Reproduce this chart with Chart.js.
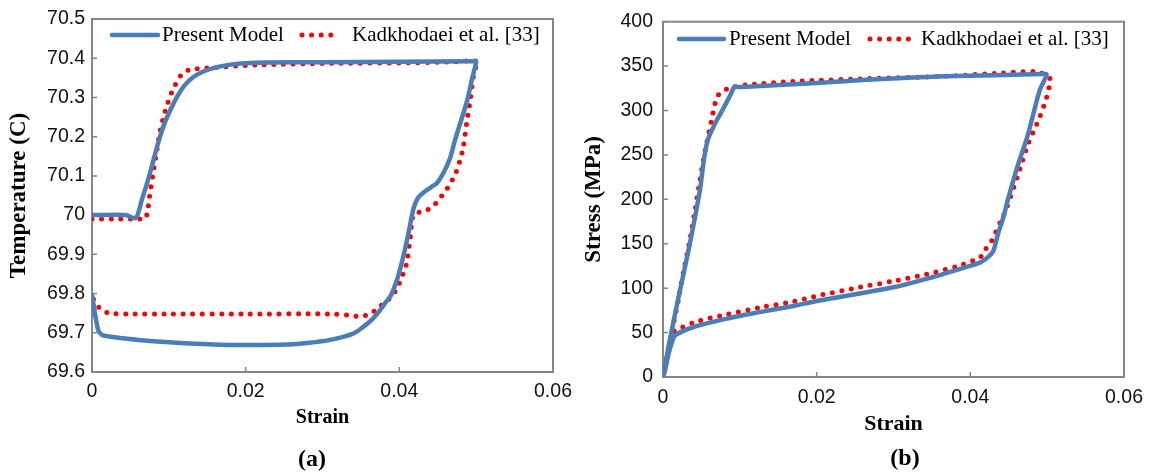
<!DOCTYPE html>
<html>
<head>
<meta charset="utf-8">
<script src="https://cdn.jsdelivr.net/npm/chart.js@4.4.1/dist/chart.umd.min.js"></script>
<style>
  html, body { margin: 0; padding: 0; background: #fff; }
  body { width: 1152px; height: 473px; position: relative; overflow: hidden; }
  .panel { position: absolute; top: 0; height: 473px; }
  #panelA { left: 0; width: 580px; }
  #panelB { left: 580px; width: 572px; }
  .caption { position: absolute; font: bold 24px 'Liberation Serif', serif; color: #000; transform: translate(-50%, -50%); }
</style>
</head>
<body>
<div class="panel" id="panelA"><canvas id="chartA" width="580" height="473"></canvas></div>
<div class="panel" id="panelB"><canvas id="chartB" width="572" height="473"></canvas></div>
<div class="caption" style="left:312px; top:458px;">(a)</div>
<div class="caption" style="left:905px; top:457px;">(b)</div>

<script>
/* =========================================
   DATA
   ========================================= */
const strainTicks = [0, 0.02, 0.04, 0.06];
const strainTickLabels = ['0', '0.02', '0.04', '0.06'];
const tempTicks = [69.6, 69.7, 69.8, 69.9, 70.0, 70.1, 70.2, 70.3, 70.4, 70.5];
const tempTickLabels = ['69.6', '69.7', '69.8', '69.9', '70', '70.1', '70.2', '70.3', '70.4', '70.5'];
const stressTicks = [0, 50, 100, 150, 200, 250, 300, 350, 400];
const stressTickLabels = ['0', '50', '100', '150', '200', '250', '300', '350', '400'];

const seriesLabels = ['Present Model', 'Kadkhodaei et al. [33]'];

// (a) temperature - present model (loading, then unloading)
const strainModelA = [0, 0.0044, 0.0057, 0.0065, 0.0073, 0.008, 0.0087, 0.0094, 0.0102, 0.0111, 0.0121, 0.0132, 0.0145, 0.016, 0.0178, 0.02, 0.0227, 0.03, 0.04, 0.0496, 0.05,
  0.04995, 0.0495, 0.0488, 0.0481, 0.0473, 0.0466, 0.0458, 0.0449, 0.0442, 0.0436, 0.043, 0.0426, 0.0423, 0.0419, 0.0416, 0.0412, 0.0407, 0.0402, 0.0397, 0.0389, 0.0382, 0.0375, 0.0365, 0.0353, 0.034, 0.031, 0.028, 0.0256, 0.022, 0.018, 0.0115, 0.0075, 0.0049, 0.0025, 0.0014, 0.0008, 0];
const tempModelA = [70.0, 70.0, 69.992, 70.04, 70.09, 70.14, 70.19, 70.232, 70.268, 70.303, 70.332, 70.352, 70.366, 70.376, 70.383, 70.387, 70.389, 70.39, 70.391, 70.392, 70.392,
  70.385, 70.35, 70.29, 70.245, 70.195, 70.145, 70.11, 70.082, 70.072, 70.064, 70.055, 70.048, 70.04, 70.02, 69.995, 69.955, 69.91, 69.87, 69.835, 69.795, 69.777, 69.758, 69.735, 69.715, 69.698, 69.682, 69.674, 69.67, 69.669, 69.669, 69.674, 69.679, 69.684, 69.69, 69.694, 69.707, 69.797];

// (a) temperature - Kadkhodaei et al.
const strainRefA = [0, 0.003, 0.0062, 0.0068, 0.0072, 0.0075, 0.0079, 0.0083, 0.0089, 0.0096, 0.0104, 0.0116, 0.0126, 0.015, 0.0217, 0.0314, 0.04, 0.046, 0.0502,
  0.0501, 0.0497, 0.0492, 0.0488, 0.0483, 0.0479, 0.0476, 0.0471, 0.0465, 0.0458, 0.045, 0.0442, 0.043, 0.0419, 0.0416, 0.0415, 0.0413, 0.041, 0.0406, 0.0402, 0.0397, 0.039, 0.038, 0.0371, 0.0359, 0.0349, 0.0335, 0.031, 0.02, 0.01, 0.0047, 0.0022, 0.001, 0.0003, 0];
const tempRefA = [69.99, 69.99, 69.99, 69.988, 70.005, 70.05, 70.1, 70.148, 70.217, 70.27, 70.314, 70.357, 70.37, 70.375, 70.383, 70.387, 70.388, 70.39, 70.393,
  70.385, 70.36, 70.29, 70.24, 70.17, 70.14, 70.12, 70.097, 70.075, 70.056, 70.036, 70.019, 70.009, 70.003, 69.98, 69.954, 69.925, 69.88, 69.857, 69.835, 69.814, 69.792, 69.776, 69.76, 69.746, 69.741, 69.745, 69.748, 69.748, 69.748, 69.748, 69.75, 69.763, 69.78, 69.8];

// (b) stress - present model
const strainModelB = [0, 0.0008, 0.002, 0.0034, 0.0048, 0.0053, 0.0058, 0.0067, 0.0079, 0.0088, 0.0093, 0.0097, 0.0115, 0.02, 0.0271, 0.0366, 0.0495, 0.0499,
  0.04985, 0.049, 0.0475, 0.0461, 0.0449, 0.0443, 0.0436, 0.043, 0.0423, 0.0413, 0.0387, 0.0343, 0.03, 0.0256, 0.02, 0.017, 0.0126, 0.0083, 0.0039, 0.0016, 0.0012, 0.0007, 0.0002, 0];
const stressModelB = [0, 38, 89, 146, 210, 243, 266, 284, 303, 318, 327, 326.5, 327, 331, 335, 338.5, 341, 341,
  338, 322, 273, 236, 200, 180, 161, 142, 135, 129, 121.8, 110.5, 101, 94, 85.5, 80, 73, 65.7, 56, 47, 40, 25, 5, 0];

// (b) stress - Kadkhodaei et al.
const strainRefB = [0, 0.0003, 0.0008, 0.0013, 0.002, 0.0027, 0.0034, 0.0041, 0.0048, 0.0055, 0.0063, 0.0068, 0.0074, 0.0086, 0.011, 0.0176, 0.0271, 0.0366, 0.0437, 0.0485, 0.0499, 0.0504,
  0.0499, 0.049, 0.0475, 0.0461, 0.0447, 0.0441, 0.0436, 0.0432, 0.0427, 0.0419, 0.0413, 0.0387, 0.0343, 0.03, 0.0256, 0.0204, 0.017, 0.0131, 0.0083, 0.0046, 0.0022, 0.0013, 0.0006, 0];
const stressRefB = [0, 16, 35, 57, 87, 120, 150, 184, 221, 256, 288, 309, 320, 325, 329, 333, 336, 338.5, 342, 344, 339.6, 335,
  314, 292, 262, 225, 190, 178, 169, 161, 152, 143, 135, 125.7, 115.6, 108, 101, 92, 85, 79, 70.5, 63, 55, 50, 27, 0];

const BLUE = '#4a7ebb';
const RED = '#ff0000';


/* =========================================
   PLUGINS
   ========================================= */
// box around the plot + small inward tick marks
const framePlugin = {
  id: 'frame',
  beforeDatasetsDraw(chart) {
    const c = chart.ctx;
    const a = chart.chartArea;
    const x = chart.scales.x, y = chart.scales.y;
    c.save();
    c.strokeStyle = '#868686';
    c.lineWidth = 2;
    c.strokeRect(a.left, a.top, a.right - a.left, a.bottom - a.top);
    c.lineWidth = 1.5;
    c.beginPath();
    x.ticks.forEach(t => {
      const p = x.getPixelForValue(t.value);
      c.moveTo(p, a.bottom); c.lineTo(p, a.bottom - 5);
    });
    y.ticks.forEach(t => {
      const p = y.getPixelForValue(t.value);
      c.moveTo(a.left, p); c.lineTo(a.left + 5, p);
    });
    c.stroke();
    c.restore();
  }
};

// legend drawn inside the plot area
const innerLegendPlugin = {
  id: 'innerLegend',
  afterDraw(chart, args, opts) {
    const c = chart.ctx;
    chart.data.datasets.forEach((ds, i) => {
      const it = opts.items[i];
      c.save();
      c.strokeStyle = ds.borderColor;
      c.lineWidth = ds.borderWidth;
      c.lineCap = 'round';
      c.setLineDash(ds.borderDash || []);
      c.beginPath();
      c.moveTo(it.x0, opts.y);
      c.lineTo(it.x1, opts.y);
      c.stroke();
      c.setLineDash([]);
      c.fillStyle = '#000';
      c.font = '21px "Liberation Serif"';
      c.textBaseline = 'middle';
      c.textAlign = 'left';
      c.fillText(ds.label, it.tx, opts.y);
      c.restore();
    });
  }
};


/* =========================================
   CHART BUILDER
   ========================================= */
function pairs(xs, ys) {
  return xs.map((v, i) => ({ x: v, y: ys[i] }));
}

function buildPanel(canvasId, o) {
  const ctx = document.getElementById(canvasId).getContext('2d');
  return new Chart(ctx, {
    type: 'line',
    data: {
      datasets: [
        {
          label: seriesLabels[0],
          data: pairs(o.modelX, o.modelY),
          borderColor: BLUE,
          borderWidth: 4.5,
          borderCapStyle: 'round',
          borderJoinStyle: 'round',
          pointRadius: 0,
          tension: 0.25,
          fill: false
        },
        {
          label: seriesLabels[1],
          data: pairs(o.refX, o.refY),
          borderColor: RED,
          borderWidth: 5,
          borderDash: [0, 9.6],
          borderCapStyle: 'round',
          pointRadius: 0,
          tension: 0.25,
          fill: false
        }
      ]
    },
    options: {
      responsive: false,
      animation: false,
      events: [],
      layout: { padding: o.pad },
      plugins: {
        legend: { display: false },
        tooltip: { enabled: false },
        innerLegend: o.legend
      },
      scales: {
        x: {
          type: 'linear',
          min: 0,
          max: 0.06,
          afterFit: s => { s.height = o.xHeight; },
          afterBuildTicks: s => { s.ticks = strainTicks.map(v => ({ value: v })); },
          ticks: {
            callback: (v, i) => strainTickLabels[i],
            font: { family: 'Liberation Sans', size: 19.5 },
            color: '#111',
            padding: o.xTickPad,
            maxRotation: 0,
            autoSkip: false
          },
          grid: { display: false, drawTicks: false },
          border: { display: false },
          title: {
            display: true,
            text: 'Strain',
            font: { family: 'Liberation Serif', size: o.xTitleSize, weight: 'bold' },
            color: '#000',
            padding: { top: 0, bottom: o.xTitlePad }
          }
        },
        y: {
          type: 'linear',
          min: o.yTicks[0],
          max: o.yTicks[o.yTicks.length - 1],
          afterFit: s => { s.width = o.yWidth; },
          afterBuildTicks: s => { s.ticks = o.yTicks.map(v => ({ value: v })); },
          ticks: {
            callback: (v, i) => o.yTickLabels[i],
            font: { family: 'Liberation Sans', size: 19.5 },
            color: '#111',
            padding: o.yTickPad,
            autoSkip: false
          },
          grid: { display: false, drawTicks: false },
          border: { display: false },
          title: {
            display: true,
            text: o.yTitle,
            font: { family: 'Liberation Serif', size: 23, weight: 'bold' },
            color: '#000',
            padding: { top: o.yTitlePad, bottom: 0 }
          }
        }
      }
    },
    plugins: [framePlugin, innerLegendPlugin]
  });
}


/* =========================================
   STARTUP
   ========================================= */
buildPanel('chartA', {
  modelX: strainModelA, modelY: tempModelA,
  refX: strainRefA, refY: tempRefA,
  yTicks: tempTicks, yTickLabels: tempTickLabels,
  yTitle: 'Temperature (C)',
  pad: { left: 0, top: 19, right: 27, bottom: 28 },
  yWidth: 92, xHeight: 73,
  xTickPad: 8, yTickPad: 7,
  xTitleSize: 20, xTitlePad: 15, yTitlePad: 5,
  legend: { y: 35, items: [{ x0: 112, x1: 158, tx: 162 }, { x0: 302, x1: 340, tx: 352 }] }
});

buildPanel('chartB', {
  modelX: strainModelB, modelY: stressModelB,
  refX: strainRefB, refY: stressRefB,
  yTicks: stressTicks, yTickLabels: stressTickLabels,
  yTitle: 'Stress (MPa)',
  pad: { left: 0, top: 20, right: 28, bottom: 28 },
  yWidth: 83, xHeight: 68,
  xTickPad: 9, yTickPad: 10,
  xTitleSize: 22, xTitlePad: 7, yTitlePad: 0,
  legend: { y: 39, items: [{ x0: 99, x1: 144, tx: 149 }, { x0: 290, x1: 330, tx: 341 }] }
});
</script>
</body>
</html>
